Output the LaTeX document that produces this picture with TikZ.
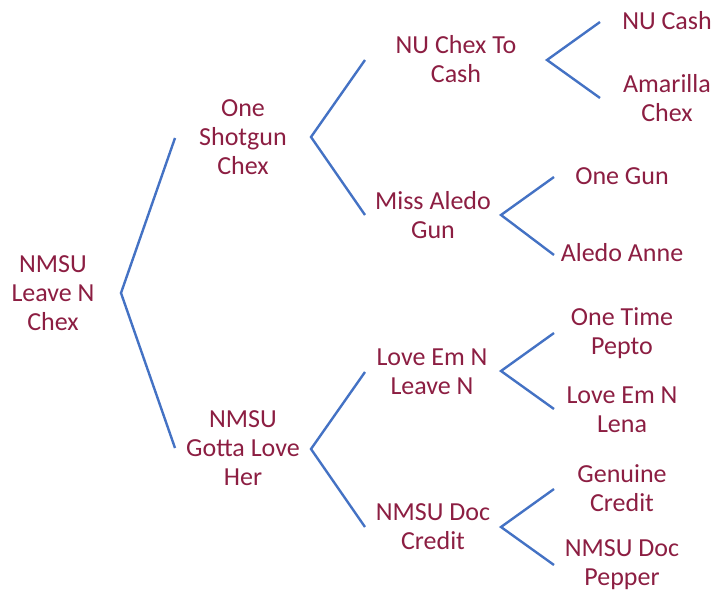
\documentclass[tikz,border=0pt]{standalone}
\usepackage{fontspec}
\setmainfont{Carlito}
\usepackage{tikz}
\usepackage{xcolor}
\definecolor{horsered}{RGB}{140,30,66}
\definecolor{linkblue}{RGB}{68,114,196}

\begin{document}
\begin{tikzpicture}[
    x=1pt, y=-1pt,
    horse/.style={text=horsered, align=center, inner sep=0pt, font=\fontsize{26}{29}\selectfont},
    branch/.style={draw=linkblue, line width=2.4pt}
]
\useasboundingbox (0,0) rectangle (714,591);

% Horses
\node[horse] (root) at (53,293) {NMSU\\Leave N\\Chex};

\node[horse] (shotgun) at (243,137) {One\\Shotgun\\Chex};
\node[horse] (gotta) at (243,448) {NMSU\\Gotta Love\\Her};

\node[horse] (chexcash) at (456,59) {NU Chex To\\Cash};
\node[horse] (aledogun) at (433,215) {Miss Aledo\\Gun};
\node[horse] (loveem) at (432,372) {Love Em N\\Leave N};
\node[horse] (doccredit) at (433,527) {NMSU Doc\\Credit};

\node[horse] (nucash) at (667,21) {NU Cash};
\node[horse] (amarilla) at (667,98) {Amarilla\\Chex};
\node[horse] (onegun) at (622,176) {One Gun};
\node[horse] (aledoanne) at (622,253) {Aledo Anne};
\node[horse] (onetime) at (622,333) {One Time\\Pepto};
\node[horse] (lena) at (622,410) {Love Em N\\Lena};
\node[horse] (genuine) at (622,488) {Genuine\\Credit};
\node[horse] (pepper) at (622,565) {NMSU Doc\\Pepper};

% Fork points
\coordinate (root-fork) at (121,293);
\coordinate (shotgun-tip) at (175,138);
\coordinate (gotta-tip) at (175,448);

\coordinate (shotgun-fork) at (311,137);
\coordinate (chexcash-tip) at (365,60);
\coordinate (aledogun-tip) at (365,215);
\coordinate (gotta-fork) at (311,449);
\coordinate (loveem-tip) at (365,372);
\coordinate (doccredit-tip) at (365,527);

\coordinate (chexcash-fork) at (547,60);
\coordinate (nucash-tip) at (600,22);
\coordinate (amarilla-tip) at (600,98);
\coordinate (aledogun-fork) at (501,215);
\coordinate (onegun-tip) at (554,177);
\coordinate (aledoanne-tip) at (554,255);
\coordinate (loveem-fork) at (501,371);
\coordinate (onetime-tip) at (554,333);
\coordinate (lena-tip) at (554,409);
\coordinate (doccredit-fork) at (501,527);
\coordinate (genuine-tip) at (554,489);
\coordinate (pepper-tip) at (554,565);

% Connections
\draw[branch] (shotgun-tip) -- (root-fork) -- (gotta-tip);
\draw[branch] (chexcash-tip) -- (shotgun-fork) -- (aledogun-tip);
\draw[branch] (loveem-tip) -- (gotta-fork) -- (doccredit-tip);
\draw[branch] (nucash-tip) -- (chexcash-fork) -- (amarilla-tip);
\draw[branch] (onegun-tip) -- (aledogun-fork) -- (aledoanne-tip);
\draw[branch] (onetime-tip) -- (loveem-fork) -- (lena-tip);
\draw[branch] (genuine-tip) -- (doccredit-fork) -- (pepper-tip);

\end{tikzpicture}
\end{document}
